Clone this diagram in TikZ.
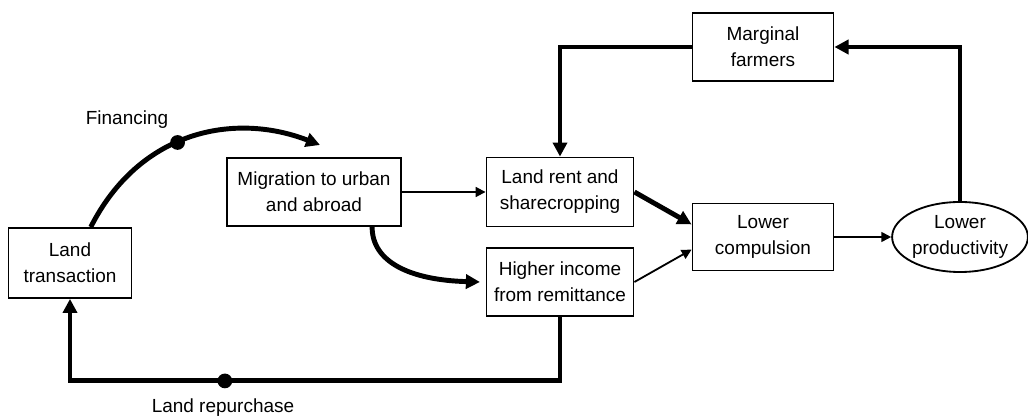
\documentclass[tikz,border=0pt]{standalone}
\usepackage{fontspec}
\setmainfont{Liberation Sans}
\usetikzlibrary{arrows.meta}
\usetikzlibrary{shapes.geometric}

\begin{document}
\begin{tikzpicture}[x=0.025cm,y=-0.025cm]
\tikzset{box/.style={draw,line width=1.3pt,rectangle,align=center,inner sep=0pt,font=\fontsize{13.5}{18.4}\selectfont}}
\tikzset{oval/.style={box,ellipse,minimum width=3.35cm,minimum height=1.75cm}}
\tikzset{flow/.style={line width=3.5pt,-{Triangle[length=10pt,width=10pt]}}}
\tikzset{link/.style={line width=1.3pt,-{Triangle[length=7pt,width=7pt]}}}
\tikzset{blob/.style={circle,fill,inner sep=0pt,minimum size=10.5pt}}
\tikzset{lbl/.style={font=\fontsize{13.5}{16}\selectfont}}
\useasboundingbox (0,0) rectangle (1028,419);

\node[box,minimum width=3.075cm,minimum height=1.75cm] (land) at (70,263) {Land\\transaction};
\node[box,minimum width=4.35cm,minimum height=1.7cm] (mig) at (314,192) {Migration to urban\\and abroad};
\node[box,minimum width=3.675cm,minimum height=1.725cm] (rent) at (560,192) {Land rent and\\sharecropping};
\node[box,minimum width=3.675cm,minimum height=1.7cm] (hi) at (560,282) {Higher income\\from remittance};
\node[box,minimum width=3.525cm,minimum height=1.675cm] (comp) at (763,237) {Lower\\compulsion};
\node[box,minimum width=3.525cm,minimum height=1.7cm] (marg) at (763,47) {Marginal\\farmers};
\node[oval] (prod) at (960,237) {Lower\\productivity};
\coordinate (fin) at (320,145);

% financing loop
\draw[flow] (land.60) .. controls (140,130) and (235,112) .. node[blob,pos=0.44] (fdot) {} (fin);
\node[lbl] (finlbl) at (127,120) {Financing};
\draw[flow] (mig.-31) .. controls (372,262) and (410,280) .. ([xshift=-4pt]hi.west);
\draw[link] (mig.east) -- (rent.west);

\draw[flow] (rent.east) -- (comp.170);
\draw[link] (hi.east) -- (comp.190);
\draw[link] (comp.east) -- (prod.west);

% feedback
\draw[flow] (prod.north) |- (marg.east);
\draw[flow] (marg.west) -| (rent.north);
\draw[flow] (hi.south) -- ++(0,64) -| node[blob,pos=0.342] (rdot) {} (land.south);
\node[lbl] (replbl) at (223,408) {Land repurchase};

\end{tikzpicture}
\end{document}
